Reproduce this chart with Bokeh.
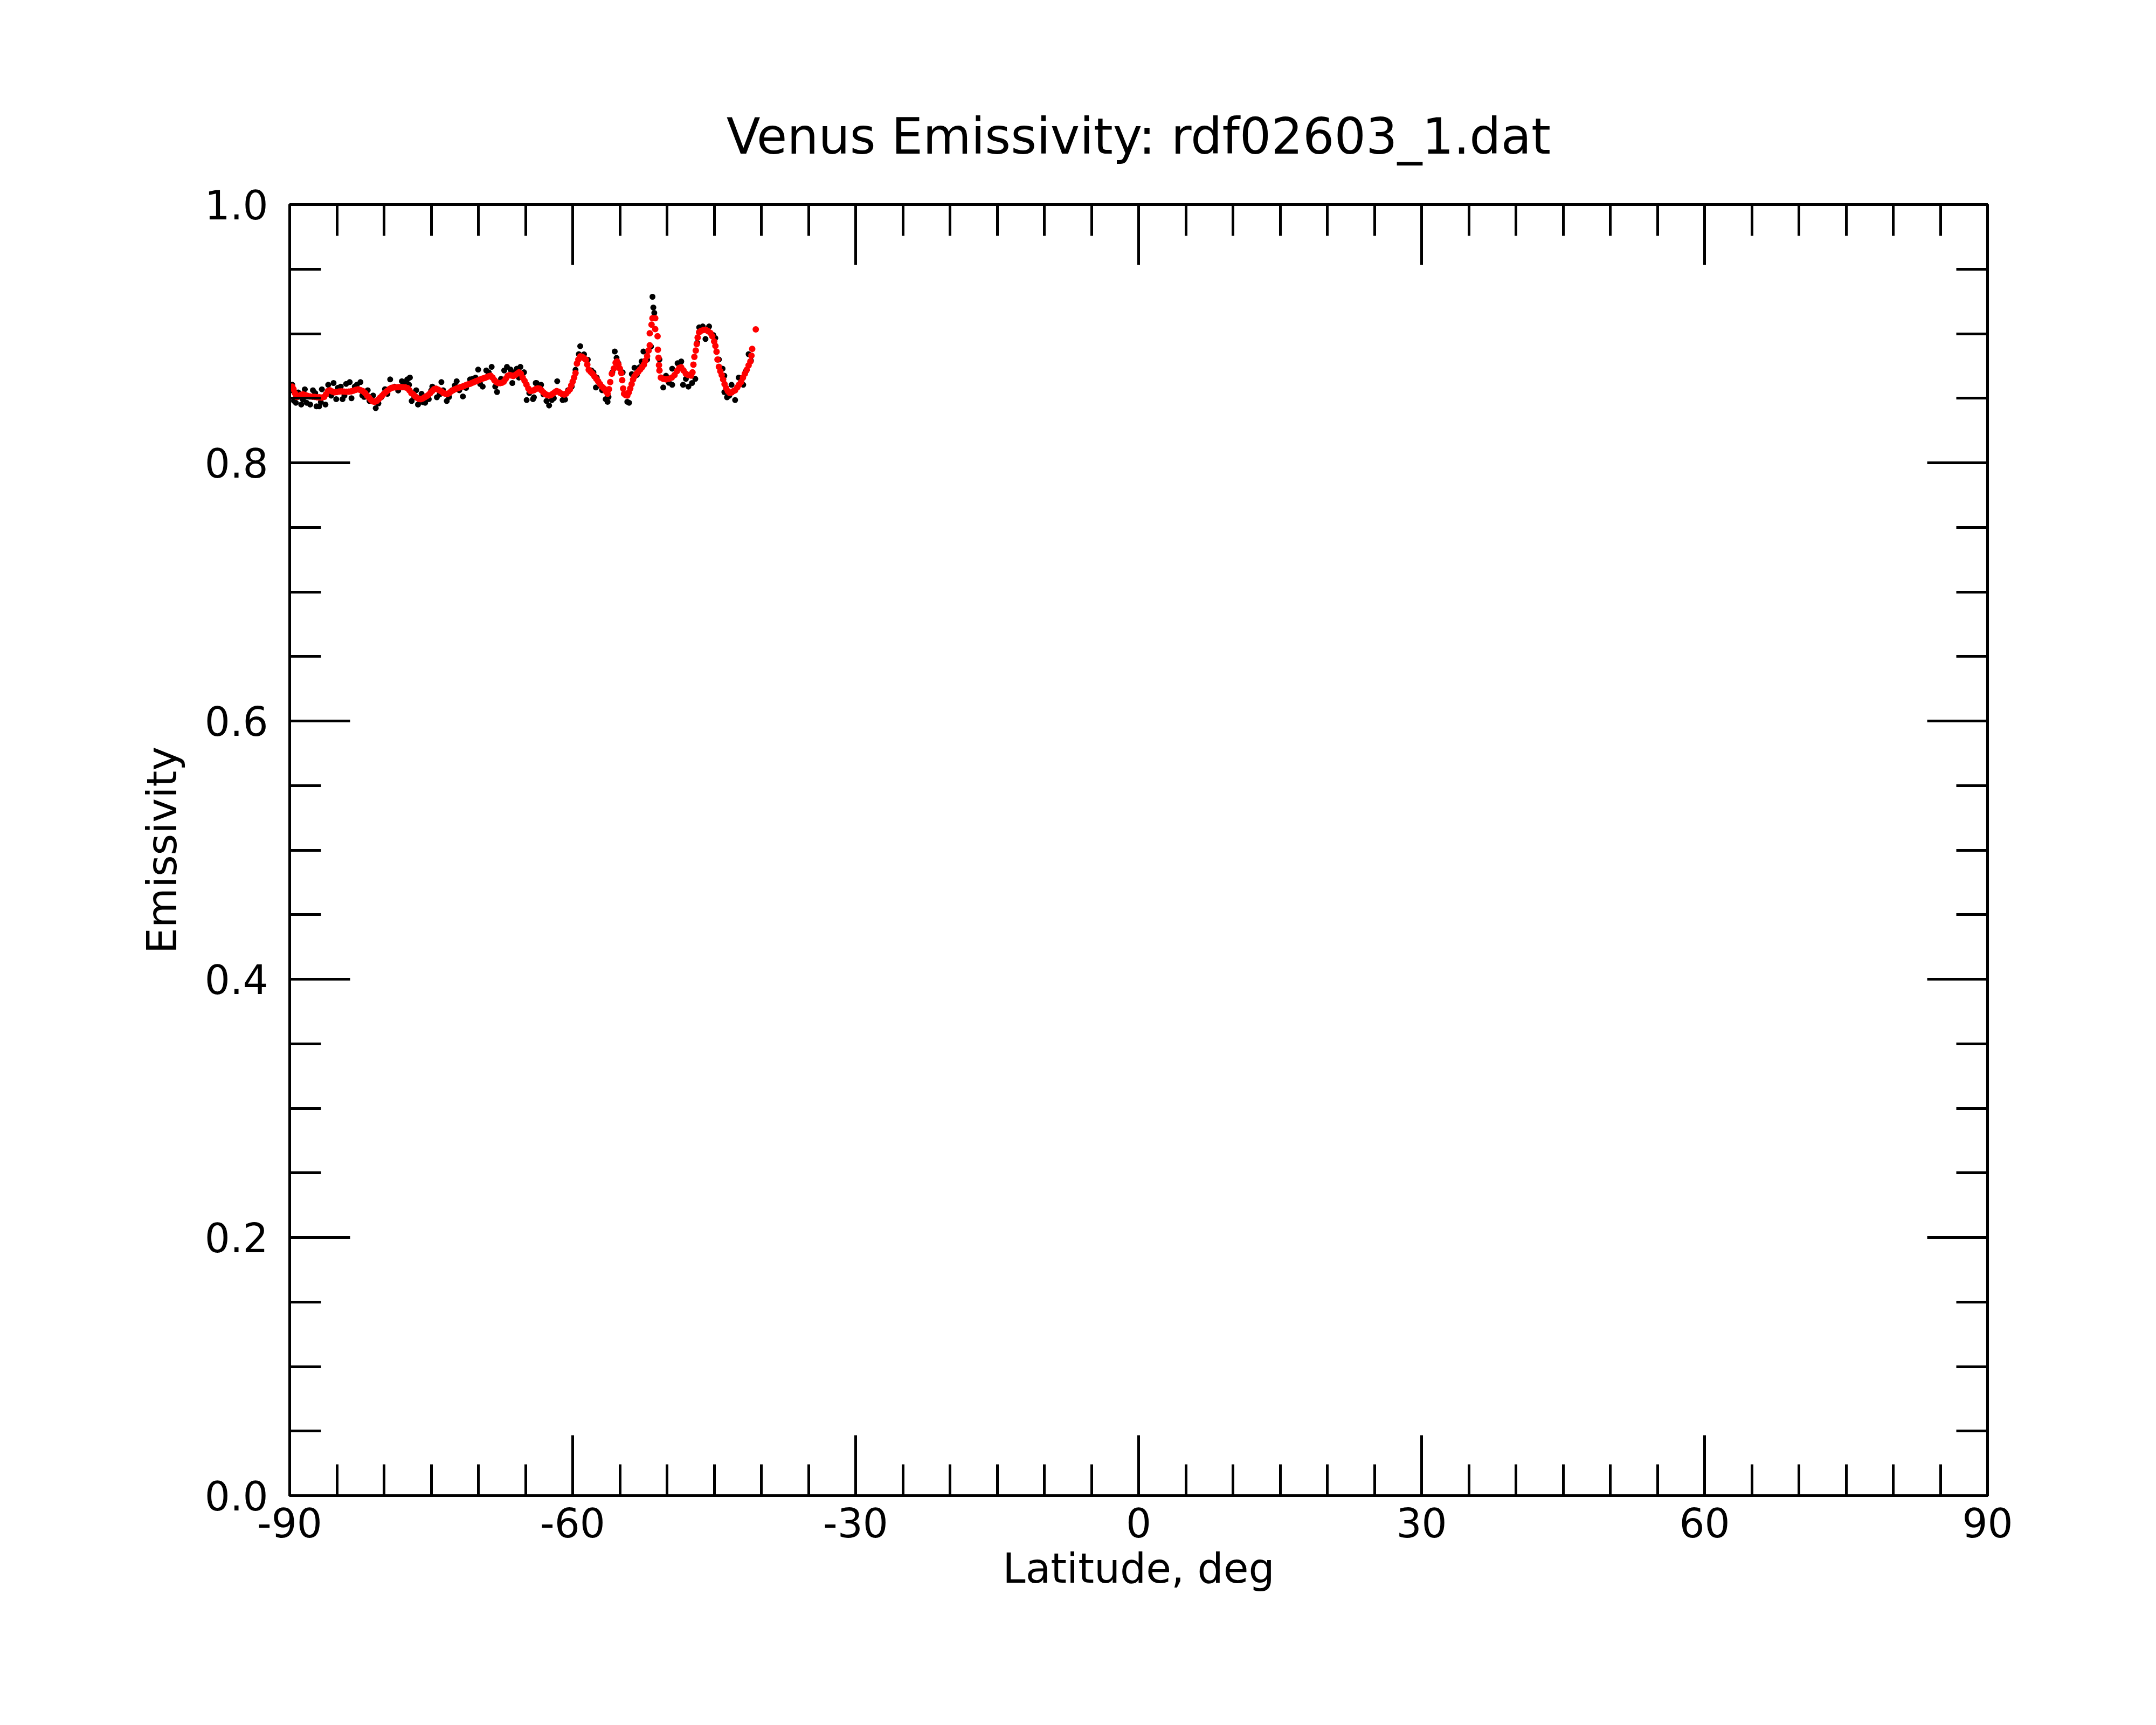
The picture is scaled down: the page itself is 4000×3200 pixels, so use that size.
from bokeh.plotting import figure
from bokeh.models import LinearAxis, FixedTicker, PrintfTickFormatter, Range1d
from bokeh.embed import file_html
from bokeh.resources import INLINE

TITLE = "Venus Emissivity: rdf02603_1.dat"
X_LABEL = "Latitude, deg"
Y_LABEL = "Emissivity"
X_TICKS = [-90, -60, -30, 0, 30, 60, 90]
Y_TICKS = [0.0, 0.2, 0.4, 0.6, 0.8, 1.0]

# raw emissivity samples (black)
raw_lat = [-89.73, -89.35, -88.78, -88.40, -88.21, -87.83, -87.54, -87.16, -86.88, -86.59,
           -86.21, -85.92, -85.35, -85.07, -84.59, -84.40, -84.02, -83.64, -83.45, -82.88,
           -82.50, -82.30, -81.73, -81.54, -81.16, -80.88, -80.30, -79.64, -79.35, -78.88,
           -78.11, -77.54, -77.26, -77.35, -77.07, -76.59, -76.40, -76.02, -75.64, -75.26,
           -74.88, -74.40, -73.92, -73.73, -73.35, -72.78, -72.30, -72.02, -71.64, -70.88,
           -70.30, -70.02, -69.54, -69.16, -68.59, -68.21, -68.02, -67.26, -66.97, -66.59,
           -66.40, -65.92, -65.54, -65.16, -64.88, -64.21, -63.83, -63.45, -63.92, -63.35,
           -64.11, -62.78, -62.50, -62.21, -61.64, -61.07, -60.50, -59.35, -59.20, -58.40,
           -58.02, -57.45, -57.54, -56.88, -56.50, -56.30, -55.54, -55.35, -55.16, -54.21,
           -54.02, -53.73, -53.45, -52.69, -52.50, -52.11, -51.54, -51.45, -51.35, -50.40,
           -50.11, -49.45, -49.45, -48.88, -48.49, -48.30, -47.73, -47.35, -46.59, -46.21,
           -45.54, -45.92, -44.88, -44.11, -43.92, -43.92, -43.64, -42.78, -43.16, -42.40,
           -41.92, -41.64, -41.35,
           -89.95, -89.55, -89.10, -88.60, -87.30, -86.70, -85.60, -84.90, -84.20, -83.10,
           -82.10, -80.60, -79.90, -78.50, -77.80, -76.80, -75.90, -75.00, -74.10, -73.10,
           -72.50, -71.30, -70.60, -69.80, -68.90, -67.60, -66.20, -65.70, -64.60, -63.10,
           -62.00, -60.80, -60.10, -59.70, -58.80, -57.80, -56.20, -55.80, -54.70, -53.20,
           -52.90, -51.70, -50.80, -49.80, -48.00, -47.00, -46.80, -45.10, -44.50, -43.40,
           -42.10, -41.10]
raw_emis = [0.8604, 0.8465, 0.8451, 0.8569, 0.8465, 0.8451, 0.8562, 0.8437, 0.8437, 0.8569,
            0.8451, 0.8604, 0.8618, 0.8493, 0.8590, 0.8493, 0.8611, 0.8625, 0.8500, 0.8604,
            0.8625, 0.8521, 0.8562, 0.8479, 0.8521, 0.8423, 0.8507, 0.8534, 0.8646, 0.8590,
            0.8632, 0.8646, 0.8660, 0.8604, 0.8479, 0.8562, 0.8451, 0.8534, 0.8465, 0.8493,
            0.8590, 0.8507, 0.8625, 0.8562, 0.8479, 0.8562, 0.8632, 0.8562, 0.8514, 0.8646,
            0.8660, 0.8722, 0.8590, 0.8715, 0.8743, 0.8590, 0.8548, 0.8715, 0.8743, 0.8722,
            0.8618, 0.8729, 0.8743, 0.8701, 0.8486, 0.8493, 0.8618, 0.8590, 0.8618, 0.8604,
            0.8507, 0.8479, 0.8444, 0.8486, 0.8632, 0.8486, 0.8562, 0.8841, 0.8903, 0.8799,
            0.8715, 0.8660, 0.8583, 0.8562, 0.8493, 0.8472, 0.8862, 0.8813, 0.8771, 0.8472,
            0.8465, 0.8687, 0.8736, 0.8785, 0.8862, 0.8799, 0.9286, 0.9203, 0.9161, 0.8583,
            0.8674, 0.8729, 0.8604, 0.8771, 0.8785, 0.8604, 0.8590, 0.8618, 0.9049, 0.9056,
            0.9056, 0.8959, 0.8966, 0.8729, 0.8674, 0.8548, 0.8507, 0.8486, 0.8604, 0.8660,
            0.8604, 0.8708, 0.8841,
            0.8560, 0.8480, 0.8545, 0.8490, 0.8540, 0.8470, 0.8520, 0.8580, 0.8520, 0.8590,
            0.8510, 0.8460, 0.8570, 0.8560, 0.8620, 0.8510, 0.8470, 0.8560, 0.8530, 0.8510,
            0.8600, 0.8580, 0.8650, 0.8610, 0.8700, 0.8650, 0.8700, 0.8660, 0.8540, 0.8530,
            0.8500, 0.8490, 0.8590, 0.8720, 0.8840, 0.8700, 0.8510, 0.8700, 0.8700, 0.8680,
            0.8740, 0.8900, 0.8800, 0.8620, 0.8650, 0.8650, 0.8930, 0.8990, 0.8800, 0.8520,
            0.8640, 0.8790]

# smoothed emissivity (red)
smooth_lat = [-89.73, -89.60, -89.45, -89.30, -89.10, -88.85, -88.60, -88.35, -88.10, -87.85,
              -87.60, -87.35, -87.10, -86.85, -86.60, -86.35, -86.15, -85.95, -85.75, -85.50,
              -85.25, -85.00, -84.75, -84.50, -84.25, -84.00, -83.75, -83.50, -83.25, -83.00,
              -82.75, -82.50, -82.25, -82.00, -81.80, -81.60, -81.40, -81.20, -81.00, -80.80,
              -80.60, -80.40, -80.20, -80.00, -79.80, -79.60, -79.40, -79.20, -79.00, -78.75,
              -78.50, -78.25, -78.00, -77.75, -77.50, -77.30, -77.10, -76.90, -76.70, -76.50,
              -76.30, -76.10, -75.90, -75.70, -75.50, -75.30, -75.10, -74.90, -74.70, -74.50,
              -74.30, -74.10, -73.90, -73.70, -73.50, -73.30, -73.10, -72.90, -72.70, -72.50,
              -72.30, -72.10, -71.90, -71.70, -71.50, -71.30, -71.10, -70.90, -70.70, -70.50,
              -70.30, -70.10, -69.90, -69.70, -69.50, -69.30, -69.10, -68.90, -68.70, -68.50,
              -68.30, -68.10, -67.90, -67.70, -67.50, -67.30, -67.10, -66.90, -66.70, -66.50,
              -66.30, -66.10, -65.90, -65.70, -65.50, -65.30, -65.10, -64.90, -64.70, -64.50,
              -64.30, -64.10, -63.90, -63.70, -63.50, -63.30, -63.10, -62.90, -62.70, -62.50,
              -62.30, -62.10, -61.90, -61.70, -61.50, -61.30, -61.10, -60.90, -60.70, -60.50,
              -60.30, -60.15, -60.00, -59.85, -59.70, -59.55, -59.40, -59.20, -59.00, -58.80,
              -58.60, -58.45, -58.30, -58.10, -57.90, -57.70, -57.50, -57.30, -57.10, -56.90,
              -56.70, -56.50, -56.30, -56.15, -56.02, -55.85, -55.64, -55.45, -55.30, -55.15,
              -55.00, -54.85, -54.75, -54.65, -54.55, -54.40, -54.21, -54.05, -53.90, -53.75,
              -53.60, -53.45, -53.25, -53.05, -52.85, -52.65, -52.45, -52.30, -52.11, -51.95,
              -51.83, -51.83, -51.64, -51.54, -51.25, -51.25, -51.00, -50.97, -50.90, -50.85,
              -50.80, -50.65, -50.40, -50.10, -49.80, -49.50, -49.20, -48.95, -48.70, -48.50,
              -48.25, -48.00, -47.75, -47.45, -47.30, -47.20, -47.10, -46.95, -46.85, -46.75,
              -46.60, -46.40, -46.15, -45.90, -45.65, -45.40, -45.20, -45.00, -44.87, -44.75,
              -44.65, -44.50, -44.35, -44.20, -44.05, -43.90, -43.73, -43.55, -43.35, -43.15,
              -42.95, -42.78, -42.55, -42.35, -42.15, -41.95, -41.75, -41.55, -41.35, -41.16,
              -41.05, -40.97, -40.59]
smooth_emis = [0.8590, 0.8570, 0.8540, 0.8510, 0.8512, 0.8525, 0.8530, 0.8525, 0.8518, 0.8514,
               0.8512, 0.8510, 0.8507, 0.8507, 0.8505, 0.8510, 0.8530, 0.8555, 0.8562, 0.8552,
               0.8546, 0.8548, 0.8552, 0.8553, 0.8551, 0.8550, 0.8551, 0.8553, 0.8558, 0.8565,
               0.8569, 0.8563, 0.8555, 0.8540, 0.8520, 0.8505, 0.8488, 0.8476, 0.8472, 0.8478,
               0.8490, 0.8505, 0.8520, 0.8535, 0.8548, 0.8560, 0.8572, 0.8580, 0.8583, 0.8585,
               0.8586, 0.8587, 0.8586, 0.8585, 0.8578, 0.8560, 0.8540, 0.8530, 0.8515, 0.8503,
               0.8495, 0.8493, 0.8498, 0.8507, 0.8516, 0.8525, 0.8540, 0.8555, 0.8570, 0.8574,
               0.8568, 0.8560, 0.8552, 0.8540, 0.8535, 0.8532, 0.8540, 0.8552, 0.8562, 0.8569,
               0.8575, 0.8580, 0.8586, 0.8590, 0.8596, 0.8602, 0.8607, 0.8612, 0.8618, 0.8624,
               0.8630, 0.8636, 0.8642, 0.8648, 0.8653, 0.8658, 0.8664, 0.8670, 0.8674, 0.8660,
               0.8640, 0.8625, 0.8618, 0.8617, 0.8620, 0.8628, 0.8650, 0.8672, 0.8680, 0.8676,
               0.8672, 0.8680, 0.8690, 0.8700, 0.8690, 0.8660, 0.8635, 0.8605, 0.8575, 0.8556,
               0.8558, 0.8563, 0.8572, 0.8576, 0.8574, 0.8560, 0.8545, 0.8532, 0.8524, 0.8521,
               0.8525, 0.8535, 0.8546, 0.8555, 0.8550, 0.8540, 0.8532, 0.8528, 0.8535, 0.8552,
               0.8569, 0.8600, 0.8628, 0.8660, 0.8695, 0.8768, 0.8800, 0.8825, 0.8822, 0.8810,
               0.8798, 0.8760, 0.8720, 0.8705, 0.8690, 0.8670, 0.8650, 0.8632, 0.8610, 0.8590,
               0.8576, 0.8555, 0.8534, 0.8570, 0.8625, 0.8690, 0.8730, 0.8775, 0.8785, 0.8760,
               0.8730, 0.8695, 0.8640, 0.8575, 0.8534, 0.8525, 0.8521, 0.8545, 0.8575, 0.8610,
               0.8645, 0.8670, 0.8690, 0.8705, 0.8722, 0.8740, 0.8760, 0.8790, 0.8827, 0.8870,
               0.8910, 0.9003, 0.9070, 0.9120, 0.9120, 0.9035, 0.8980, 0.8876, 0.8813, 0.8757,
               0.8715, 0.8660, 0.8650, 0.8646, 0.8650, 0.8660, 0.8680, 0.8710, 0.8735, 0.8740,
               0.8715, 0.8690, 0.8680, 0.8675, 0.8700, 0.8760, 0.8820, 0.8870, 0.8920, 0.8970,
               0.9010, 0.9022, 0.9028, 0.9030, 0.9020, 0.9005, 0.8980, 0.8940, 0.8905, 0.8860,
               0.8800, 0.8743, 0.8710, 0.8680, 0.8645, 0.8610, 0.8578, 0.8555, 0.8541, 0.8545,
               0.8555, 0.8562, 0.8585, 0.8605, 0.8625, 0.8660, 0.8690, 0.8720, 0.8755, 0.8785,
               0.8830, 0.8882, 0.9033]

FONT = "DejaVu Sans"
LW = 5

p = figure(frame_width=3150, frame_height=2395, output_backend="svg", toolbar_location=None,
           x_range=Range1d(-90, 90), y_range=Range1d(0, 1),
           x_axis_location="below", y_axis_location="left", title=TITLE)
p.min_border_left = 537
p.min_border_right = 297
p.min_border_top = 379
p.min_border_bottom = 410
p.background_fill_color = "white"
p.border_fill_color = "white"
p.grid.visible = False
p.outline_line_color = "black"
p.outline_line_width = LW

p.title.text_font = FONT
p.title.text_font_size = "92px"
p.title.text_font_style = "normal"
p.title.text_color = "black"
p.title.align = "center"
p.title.standoff = 145

x_minor = list(range(-90, 91, 5))
y_minor = [round(i * 0.05, 2) for i in range(21)]

def style(ax, xaxis, labels):
    ticks = X_TICKS if xaxis else Y_TICKS
    ax.ticker = FixedTicker(ticks=ticks, minor_ticks=x_minor if xaxis else y_minor)
    ax.axis_line_width = LW
    ax.axis_line_color = "black"
    ax.major_tick_line_width = LW
    ax.minor_tick_line_width = LW
    ax.major_tick_line_color = "black"
    ax.minor_tick_line_color = "black"
    ax.major_tick_in = 112
    ax.major_tick_out = 0
    ax.minor_tick_in = 58
    ax.minor_tick_out = 0
    ax.major_label_text_font = FONT
    ax.axis_label_text_font = FONT
    ax.axis_label_text_font_style = "normal"
    ax.major_label_text_color = "black"
    ax.axis_label_text_color = "black"
    if labels:
        ax.major_label_text_font_size = "74px"
        ax.axis_label_text_font_size = "76px"
        ax.formatter = PrintfTickFormatter(format="%d" if xaxis else "%.1f")
    else:
        ax.major_label_overrides = {t: "" for t in ticks}
        ax.major_label_standoff = 0
        ax.axis_label = None

xa = p.xaxis[0]
style(xa, True, True)
xa.axis_label = X_LABEL
xa.major_label_standoff = 22
xa.axis_label_standoff = 10

ya = p.yaxis[0]
style(ya, False, True)
ya.axis_label = Y_LABEL
ya.major_label_standoff = 40
ya.axis_label_standoff = 32

top = LinearAxis()
style(top, True, False)
p.add_layout(top, "above")
right = LinearAxis()
style(right, False, False)
p.add_layout(right, "right")

p.scatter(raw_lat, raw_emis, size=11, color="black", line_width=0)
p.scatter(smooth_lat, smooth_emis, size=12, color="red", line_width=0)

open("out.html", "w").write(file_html(p, INLINE))
